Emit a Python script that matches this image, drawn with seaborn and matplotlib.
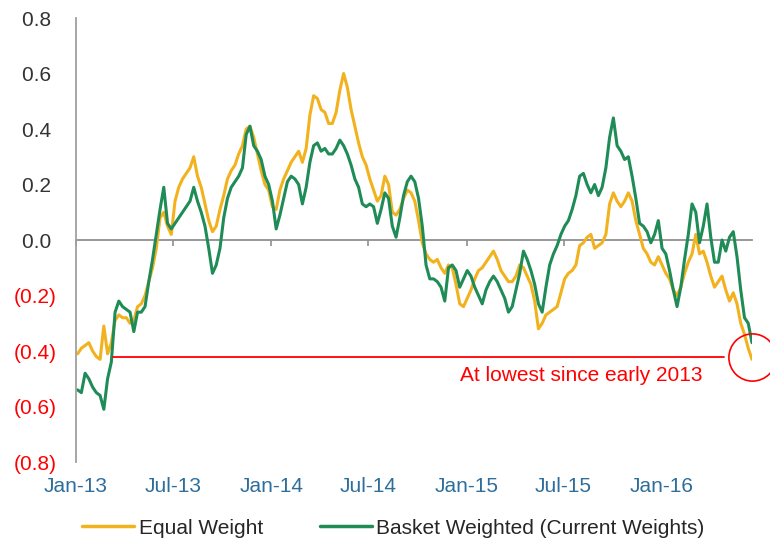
import matplotlib
matplotlib.use('Agg')
import matplotlib.pyplot as plt
import matplotlib.dates as mdates
from matplotlib.ticker import FuncFormatter, NullLocator, NullFormatter
import seaborn as sns
import pandas as pd

# weekly readings, Jan 2013 - Jun 2016
start_date = '2013-01-04'

equal_weight = [
    -0.41, -0.39, -0.38, -0.37, -0.40, -0.42, -0.43, -0.31, -0.41, -0.37,
    -0.29, -0.27, -0.28, -0.28, -0.30, -0.29, -0.24, -0.23, -0.20, -0.15,
    -0.10, -0.03, 0.08, 0.10, 0.05, 0.02, 0.14, 0.19, 0.22, 0.24,
    0.26, 0.30, 0.23, 0.19, 0.13, 0.07, 0.03, 0.05, 0.11, 0.16,
    0.22, 0.25, 0.27, 0.31, 0.34, 0.40, 0.41, 0.37, 0.31, 0.25,
    0.20, 0.18, 0.12, 0.11, 0.18, 0.22, 0.25, 0.28, 0.30, 0.32,
    0.28, 0.33, 0.45, 0.52, 0.51, 0.47, 0.46, 0.42, 0.42, 0.46,
    0.54, 0.60, 0.55, 0.47, 0.41, 0.35, 0.30, 0.27, 0.22, 0.18,
    0.14, 0.16, 0.23, 0.20, 0.10, 0.09, 0.11, 0.15, 0.18, 0.17,
    0.14, 0.07, -0.01, -0.05, -0.07, -0.08, -0.07, -0.10, -0.12, -0.09,
    -0.10, -0.16, -0.23, -0.24, -0.21, -0.18, -0.14, -0.11, -0.10, -0.08,
    -0.06, -0.04, -0.07, -0.11, -0.13, -0.15, -0.15, -0.13, -0.09, -0.10,
    -0.13, -0.16, -0.22, -0.32, -0.30, -0.27, -0.26, -0.25, -0.24, -0.19,
    -0.14, -0.12, -0.11, -0.09, -0.02, -0.01, 0.01, 0.02, -0.03, -0.02,
    -0.01, 0.02, 0.13, 0.17, 0.14, 0.12, 0.14, 0.17, 0.14, 0.07,
    0.02, -0.03, -0.05, -0.08, -0.09, -0.06, -0.09, -0.12, -0.14, -0.18,
    -0.20, -0.17, -0.12, -0.08, -0.05, 0.02, -0.05, -0.04, -0.08, -0.13,
    -0.17, -0.15, -0.13, -0.18, -0.22, -0.19, -0.23, -0.30, -0.34, -0.39,
    -0.43,
]

basket_weighted = [
    -0.54, -0.55, -0.48, -0.50, -0.53, -0.55, -0.56, -0.61, -0.50, -0.44,
    -0.26, -0.22, -0.24, -0.25, -0.26, -0.33, -0.26, -0.26, -0.24, -0.15,
    -0.07, 0.02, 0.11, 0.19, 0.06, 0.04, 0.06, 0.08, 0.10, 0.12,
    0.14, 0.19, 0.14, 0.10, 0.05, -0.03, -0.12, -0.09, -0.03, 0.08,
    0.15, 0.19, 0.21, 0.23, 0.26, 0.38, 0.41, 0.34, 0.32, 0.29,
    0.23, 0.20, 0.14, 0.04, 0.09, 0.15, 0.21, 0.23, 0.22, 0.20,
    0.13, 0.19, 0.28, 0.34, 0.35, 0.32, 0.33, 0.31, 0.31, 0.33,
    0.36, 0.34, 0.31, 0.27, 0.22, 0.19, 0.13, 0.12, 0.13, 0.12,
    0.06, 0.11, 0.17, 0.15, 0.05, 0.01, 0.08, 0.16, 0.21, 0.23,
    0.21, 0.15, 0.05, -0.09, -0.14, -0.14, -0.15, -0.17, -0.22, -0.10,
    -0.09, -0.11, -0.17, -0.14, -0.11, -0.13, -0.17, -0.20, -0.23, -0.18,
    -0.15, -0.13, -0.15, -0.18, -0.21, -0.26, -0.24, -0.18, -0.12, -0.04,
    -0.07, -0.11, -0.16, -0.23, -0.26, -0.17, -0.09, -0.05, -0.02, 0.02,
    0.05, 0.07, 0.11, 0.16, 0.23, 0.24, 0.20, 0.17, 0.20, 0.16,
    0.19, 0.26, 0.37, 0.44, 0.34, 0.32, 0.29, 0.30, 0.23, 0.15,
    0.06, 0.05, 0.03, -0.01, 0.02, 0.07, -0.03, -0.05, -0.11, -0.18,
    -0.24, -0.17, -0.07, 0.02, 0.13, 0.10, -0.01, 0.05, 0.13, 0.01,
    -0.08, -0.08, 0.00, -0.04, 0.01, 0.03, -0.06, -0.18, -0.28, -0.30,
    -0.37,
]

tick_dates = ['2013-01-01', '2013-07-01', '2014-01-01', '2014-07-01',
              '2015-01-01', '2015-07-01', '2016-01-01']
y_ticks = [-0.8, -0.6, -0.4, -0.2, 0.0, 0.2, 0.4, 0.6, 0.8]

lowest_level = -0.42
lowest_line = ['2013-03-11', '2016-04-25']
note_text = 'At lowest since early 2013'
note_pos = ['2015-08-03', -0.49]

YELLOW = '#F2B21E'
GREEN = '#1F8C58'
RED = '#FF0000'

dates = pd.date_range(start_date, periods=len(equal_weight), freq='7D')
df = pd.DataFrame({'date': dates, 'Equal Weight': equal_weight,
                   'Basket Weighted (Current Weights)': basket_weighted})

sns.set_theme(style='white')
plt.rcParams['font.family'] = ['Liberation Sans', 'DejaVu Sans']

fig = plt.figure(figsize=(7.7, 5.44), dpi=100)
ax = fig.add_axes([0.0987, 0.1507, 0.8779, 0.8162])

sns.lineplot(data=df, x='date', y='Equal Weight', ax=ax, color=YELLOW, lw=2.2,
             label='Equal Weight')
sns.lineplot(data=df, x='date', y='Basket Weighted (Current Weights)', ax=ax,
             color=GREEN, lw=2.2, label='Basket Weighted (Current Weights)')

ax.set_xlim(pd.Timestamp('2013-01-01'), dates[-1])
ax.set_ylim(-0.8, 0.8)
ax.set_xlabel('')
ax.set_ylabel('')

# y labels: negatives in red with brackets
ax.set_yticks(y_ticks)
ax.yaxis.set_major_formatter(FuncFormatter(
    lambda v, p: f'({abs(v):.1f})' if v < -1e-9 else f'{abs(v):.1f} '))
for lab, v in zip(ax.get_yticklabels(), y_ticks):
    lab.set_color(RED if v < -1e-9 else '#333333')
ax.tick_params(axis='y', length=0, pad=14, labelsize=15)

ax.set_xticks(pd.to_datetime(tick_dates))
ax.xaxis.set_major_formatter(mdates.DateFormatter('%b-%y'))
ax.tick_params(axis='x', length=0, pad=11, labelsize=15, labelcolor='#2E6E9C')
ax.xaxis.set_minor_locator(NullLocator())

for s in ['top', 'right', 'bottom']:
    ax.spines[s].set_visible(False)
ax.spines['left'].set_color('#A0A0A0')
ax.spines['left'].set_linewidth(1.3)

# zero line with tick marks
sec = ax.secondary_xaxis(0.5)
sec.set_xticks(mdates.date2num(pd.to_datetime(tick_dates)))
sec.xaxis.set_minor_locator(NullLocator())
sec.xaxis.set_major_formatter(NullFormatter())
sec.xaxis.set_ticks_position('bottom')
sec.tick_params(axis='x', labelbottom=False, labeltop=False, length=4, width=1.2,
                color='#909090', direction='out')
for s in sec.spines.values():
    s.set_color('#909090')
    s.set_linewidth(1.3)

# lowest level marker
ax.plot(pd.to_datetime(lowest_line), [lowest_level, lowest_level], color=RED, lw=1.3)
ax.plot([dates[-1]], [lowest_level], marker='o', markersize=34, mfc='none',
        mec=RED, mew=1.2, clip_on=False)
ax.text(pd.Timestamp(note_pos[0]), note_pos[1], note_text, color=RED, fontsize=15,
        ha='center', va='center')

handles, labels = ax.get_legend_handles_labels()
ax.get_legend().remove()
fig.legend(handles, labels, loc='center', bbox_to_anchor=(0.511, 0.029), ncol=2,
           frameon=False, fontsize=15, handlelength=2.5, handletextpad=0.2,
           columnspacing=2.75)
for h in fig.legends[0].get_lines():
    h.set_linewidth(2.5)

fig.savefig('out.png', dpi=100)
